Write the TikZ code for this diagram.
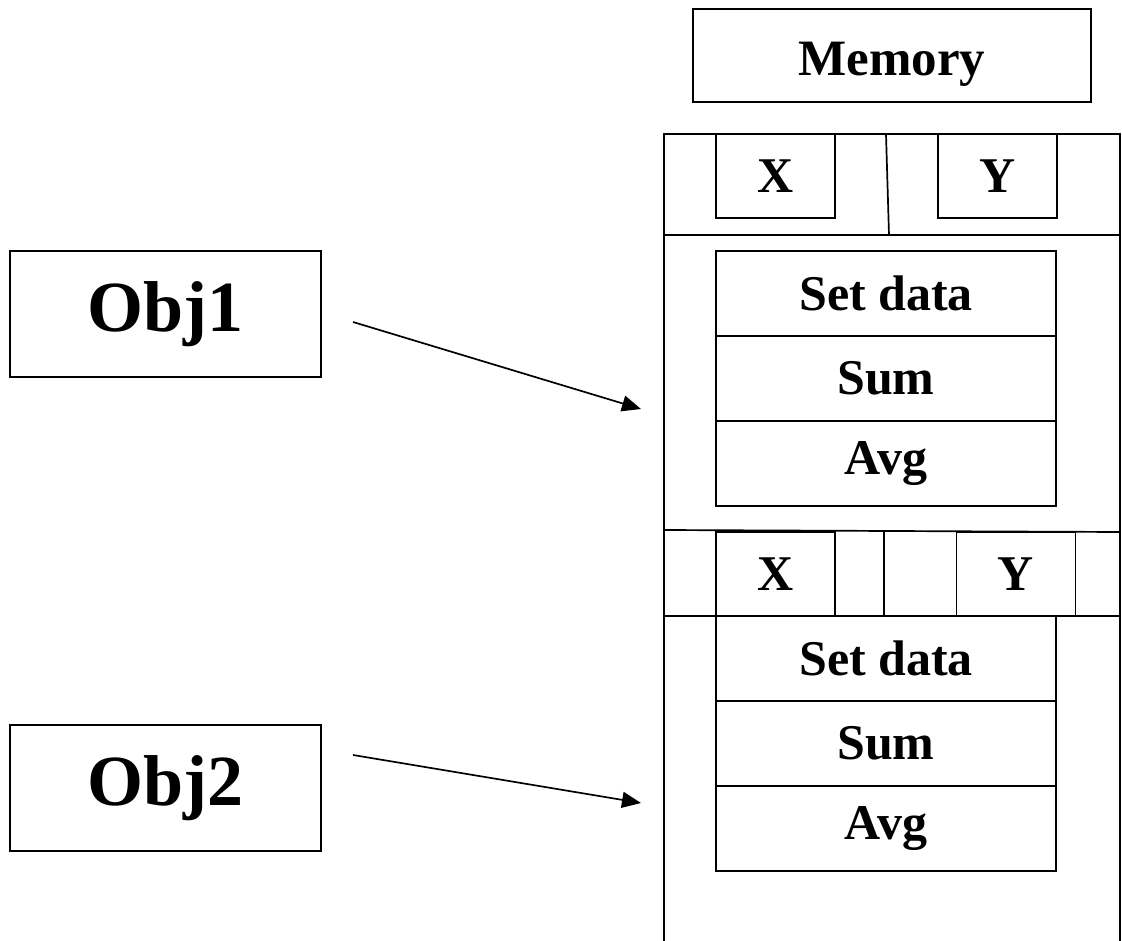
\documentclass[tikz,border=0pt]{standalone}
\usepackage{fontspec}
\setmainfont{Liberation Serif}
\usetikzlibrary{arrows.meta}

\begin{document}
\begin{tikzpicture}[x=1pt,y=-1pt,line width=1.7pt,
  box/.style={draw, inner sep=0pt, font=\bfseries\fontsize{50}{50}\selectfont},
  method/.style={box, minimum width=340pt, minimum height=85pt},
  field/.style={box, minimum width=119pt, minimum height=84pt},
  objbox/.style={box, minimum width=311pt, minimum height=126pt, font=\bfseries\fontsize{72}{72}\selectfont},
  pointer/.style={-{Triangle[length=19pt,width=16pt]}}]
\useasboundingbox (0,0) rectangle (1122,941);
\node[box, minimum width=398pt, minimum height=93pt, text height=40pt, text depth=0pt, font=\bfseries\fontsize{51}{51}\selectfont] (mem) at (892,55.5) {Memory};
% memory column
 \draw (664,941) -- (664,134) -- (1120,134) -- (1120,941);
 \draw (664,235) -- (1120,235);
 \draw (664,530) -- (1120,532);
 \draw (664,616) -- (1120,616);
 \draw (886,134) -- (889,235);
 \draw (884,532) -- (884,616);
 \begin{scope}[every node/.style={field}]
  \node (x1) at (775.5,176) {X};
  \node (y1) at (997.5,176) {Y};
  \node (x2) at (775.5,574) {X};
  \node (y2) at (1016,574) {Y};
 \end{scope}
 \begin{scope}[every node/.style={method}]
  \node (set1) at (886,293.5) {Set data};
  \node (sum1) at (886,378.5) {Sum};
  \node (avg1) at (886,463.5) {Avg};
  \node (set2) at (886,658.5) {Set data};
  \node (sum2) at (886,743.5) {Sum};
  \node (avg2) at (886,828.5) {Avg};
 \end{scope}
\node[objbox] (obj1) at (165.5,314) {Obj1};
\node[objbox] (obj2) at (165.5,788) {Obj2};
\coordinate (t1) at (353,322);
\coordinate (h1) at (641,409);
\coordinate (t2) at (353,755);
\coordinate (h2) at (641,803);
  \path [pointer] (t1) edge (h1);
  \path [pointer] (t2) edge (h2);
\end{tikzpicture}
\end{document}
